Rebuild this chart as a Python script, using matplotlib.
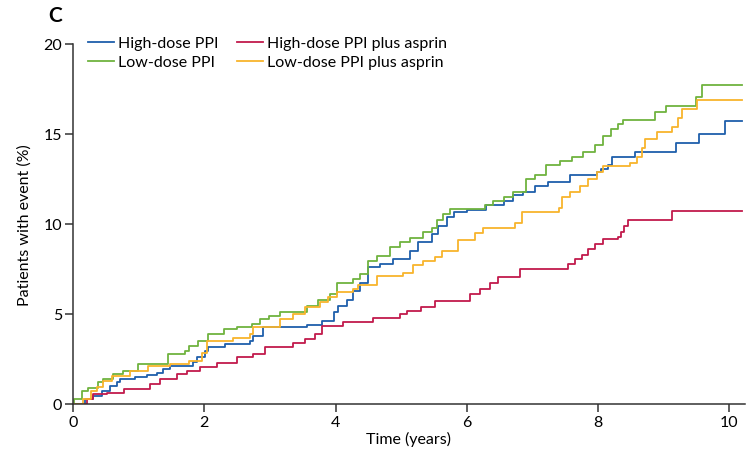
import numpy as np
import matplotlib
matplotlib.use("Agg")
import matplotlib.pyplot as plt

# Kaplan-Meier style cumulative event curves (time in years, %)
high_t = [0, 0.18, 0.30, 0.44, 0.56, 0.67, 0.72, 0.95, 1.12, 1.28, 1.37, 1.48, 1.83, 1.89,
          2.01, 2.05, 2.32, 2.70, 2.75, 2.90, 3.56, 3.80, 3.97, 4.04, 4.17, 4.27, 4.37, 4.50,
          4.68, 4.88, 5.14, 5.26, 5.47, 5.56, 5.70, 5.80, 6.00, 6.30, 6.56, 6.70, 6.86, 7.04,
          7.24, 7.58, 7.99, 8.05, 8.15, 8.22, 8.57, 9.19, 9.54, 9.94, 10.2]
high_v = [0, 0.3, 0.45, 0.7, 1.0, 1.2, 1.4, 1.5, 1.6, 1.75, 1.95, 2.1, 2.35, 2.6,
          2.95, 3.15, 3.35, 3.5, 3.8, 4.3, 4.4, 4.6, 5.1, 5.45, 5.8, 6.3, 6.75, 7.6,
          7.8, 8.05, 8.5, 9.0, 9.45, 9.9, 10.4, 10.65, 10.8, 11.05, 11.3, 11.6, 11.8, 12.1,
          12.35, 12.7, 12.9, 13.05, 13.3, 13.7, 14.0, 14.5, 15.0, 15.7, 15.7]

low_t = [0, 0.02, 0.13, 0.23, 0.38, 0.46, 0.61, 0.76, 0.99, 1.45, 1.71, 1.76, 1.90, 2.06,
         2.30, 2.50, 2.72, 2.85, 2.98, 3.16, 3.57, 3.73, 3.92, 4.02, 4.27, 4.38, 4.50, 4.63,
         4.83, 4.98, 5.14, 5.34, 5.47, 5.55, 5.64, 5.75, 6.28, 6.40, 6.56, 6.70, 6.90, 7.04,
         7.20, 7.42, 7.60, 7.77, 7.96, 8.08, 8.20, 8.30, 8.38, 8.87, 9.04, 9.50, 9.59, 10.2]
low_v = [0, 0.3, 0.7, 0.9, 1.2, 1.4, 1.65, 1.85, 2.2, 2.8, 2.95, 3.2, 3.5, 3.9,
         4.15, 4.3, 4.45, 4.7, 4.9, 5.1, 5.45, 5.8, 6.1, 6.75, 6.95, 7.2, 7.95, 8.2,
         8.7, 9.0, 9.25, 9.55, 9.8, 10.2, 10.55, 10.85, 11.05, 11.3, 11.5, 11.8, 12.5, 12.7,
         13.3, 13.5, 13.7, 14.0, 14.4, 14.9, 15.3, 15.55, 15.8, 16.2, 16.55, 17.05, 17.7, 17.7]

high_asp_t = [0, 0.21, 0.30, 0.52, 0.77, 1.17, 1.32, 1.58, 1.73, 1.94, 2.20, 2.50, 2.75, 2.93,
              3.35, 3.54, 3.69, 3.80, 4.12, 4.57, 4.98, 5.09, 5.30, 5.52, 6.05, 6.20, 6.36, 6.48,
              6.81, 7.55, 7.65, 7.76, 7.85, 7.96, 8.08, 8.30, 8.35, 8.40, 8.45, 9.13, 10.2]
high_asp_v = [0, 0.3, 0.55, 0.6, 0.85, 1.1, 1.4, 1.65, 1.85, 2.05, 2.3, 2.6, 2.8, 3.15,
              3.4, 3.6, 3.9, 4.35, 4.55, 4.8, 5.0, 5.15, 5.4, 5.7, 6.1, 6.4, 6.75, 7.05,
              7.5, 7.8, 8.05, 8.3, 8.6, 8.9, 9.15, 9.3, 9.55, 9.9, 10.2, 10.7, 10.7]

low_asp_t = [0, 0.15, 0.28, 0.36, 0.46, 0.59, 0.87, 1.14, 1.48, 1.76, 1.97, 2.04, 2.44, 2.70,
             2.75, 3.16, 3.35, 3.54, 3.76, 3.89, 4.02, 4.27, 4.35, 4.63, 5.03, 5.18, 5.34, 5.52,
             5.62, 5.87, 6.13, 6.25, 6.74, 6.84, 7.40, 7.45, 7.58, 7.73, 7.85, 7.99, 8.08, 8.48,
             8.60, 8.67, 8.72, 8.90, 9.13, 9.22, 9.28, 9.51, 10.2]
low_asp_v = [0, 0.3, 0.7, 0.95, 1.3, 1.55, 1.85, 2.1, 2.2, 2.4, 2.85, 3.5, 3.65, 3.9,
             4.3, 4.7, 5.0, 5.4, 5.65, 5.95, 6.2, 6.4, 6.6, 7.1, 7.3, 7.7, 7.95, 8.15,
             8.5, 9.1, 9.5, 9.8, 10.05, 10.65, 10.9, 11.5, 11.8, 12.1, 12.5, 12.9, 13.2, 13.4,
             13.7, 14.2, 14.7, 15.1, 15.4, 15.9, 16.4, 16.9, 16.9]

labels = ["High-dose PPI", "Low-dose PPI", "High-dose PPI plus asprin", "Low-dose PPI plus asprin"]
colors = ["#1f5fab", "#6fb33f", "#c21a4c", "#f8b42c"]

plt.rcParams['font.family'] = ['Lato', 'DejaVu Sans']

fig = plt.figure(figsize=(7.47, 4.56), dpi=100)
ax = fig.add_axes([73 / 747, 1 - 405 / 456, 672 / 747, 360 / 456])

series = [(high_t, high_v), (low_t, low_v), (high_asp_t, high_asp_v), (low_asp_t, low_asp_v)]
for (t, v), lab, col in zip(series, labels, colors):
    ax.step(t, v, where='post', color=col, lw=1.3, label=lab)

ax.set_xlim(0, 10.24)
ax.set_ylim(0, 20)
ax.set_xticks([0, 2, 4, 6, 8, 10])
ax.set_yticks([0, 5, 10, 15, 20])
for s in ['top', 'right']:
    ax.spines[s].set_visible(False)
for s in ['left', 'bottom']:
    ax.spines[s].set_color('#333333')
    ax.spines[s].set_linewidth(1.1)
ax.tick_params(length=6, width=1.1, color='#333333', labelsize=11.5, pad=2)
ax.spines['left'].set_bounds(0, 20)

ax.set_xlabel("Time (years)", fontsize=11.5, labelpad=1)
ax.set_ylabel("Patients with event (%)", fontsize=11.5, labelpad=8)

fig.text(55 / 747, 1 - 16 / 456, "C", fontsize=15, fontweight='bold', ha='center', va='center')

ax.legend(ncol=2, loc='upper left', bbox_to_anchor=(88 / 747, 1 - 37 / 456),
          bbox_transform=fig.transFigure, frameon=False, fontsize=11.5,
          handlelength=1.6, handletextpad=0.25, labelspacing=0.3,
          columnspacing=1.2, borderpad=0, borderaxespad=0)

fig.savefig("out.png", dpi=100)
